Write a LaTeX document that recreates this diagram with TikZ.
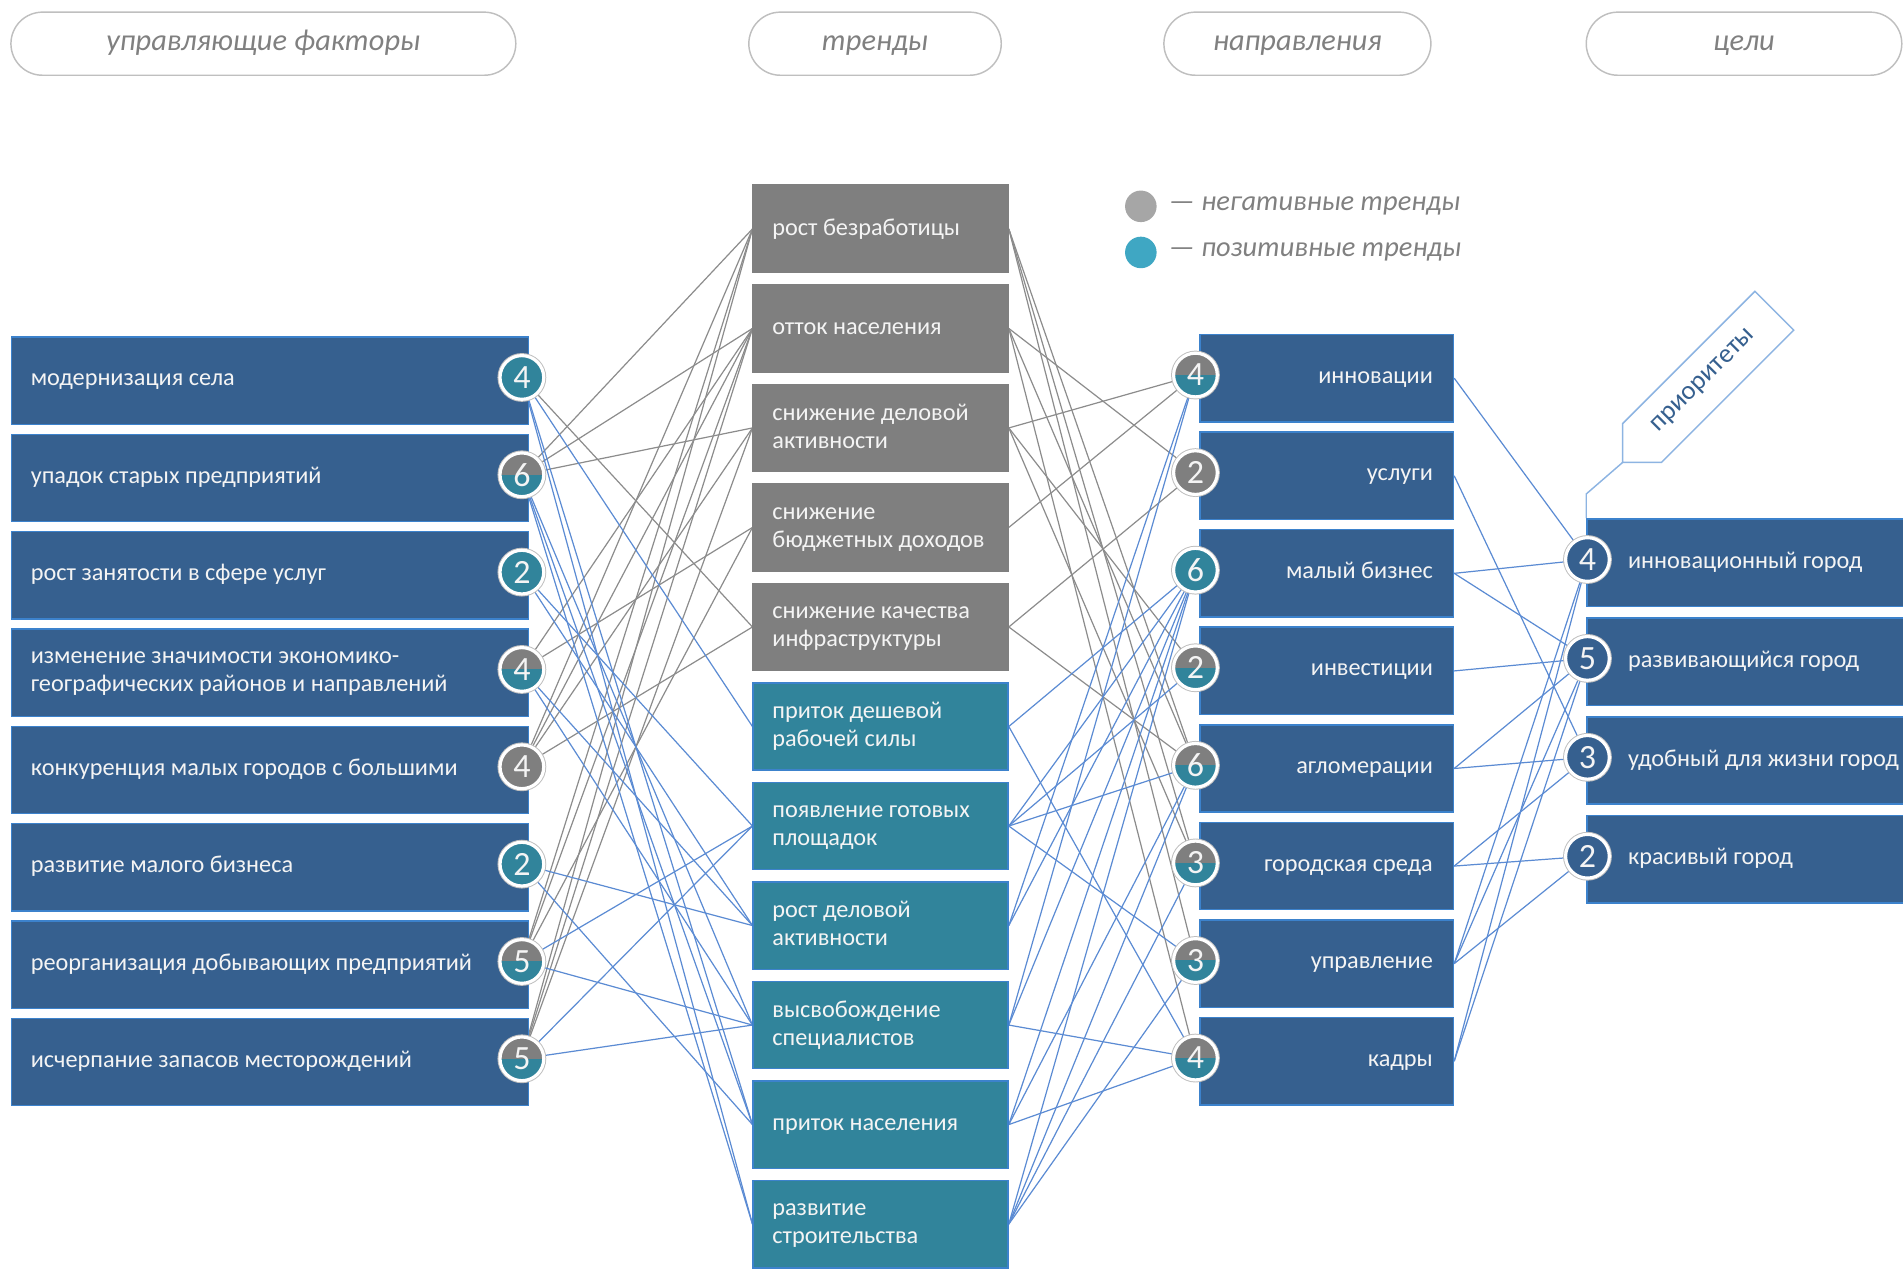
\documentclass[tikz,border=0pt]{standalone}
\usepackage{fontspec}
\setmainfont{Carlito}
\usetikzlibrary{calc,shapes.misc}
\pgfdeclarelayer{bg}
\pgfsetlayers{bg,main}
\definecolor{dkblue}{HTML}{36608F}
\definecolor{boxedge}{HTML}{3C82CC}
\definecolor{tealc}{HTML}{31849B}
\definecolor{grayc}{HTML}{7F7F7F}
\definecolor{lineg}{HTML}{8C8C8C}
\definecolor{lineb}{HTML}{5B8BD3}
\definecolor{pillc}{HTML}{BFBFBF}
\definecolor{pilltxt}{HTML}{808080}
\definecolor{leggray}{HTML}{A6A6A6}
\definecolor{legteal}{HTML}{3FA7C3}
\definecolor{tagc}{HTML}{8DB4E2}
\definecolor{offwhite}{HTML}{F4F4F4}
\newcommand\vsp{\vphantom{Бу}}
\begin{document}
\begin{tikzpicture}[x=0.5pt,y=-0.5pt,
  boxtext/.style={text=offwhite, font=\fontsize{10}{11.5}\selectfont, align=left, inner sep=0},
  fbox/.style={draw=boxedge, fill=dkblue, line width=0.6pt, minimum width=213pt, minimum height=36pt, inner sep=0, anchor=north west},
  tbox/.style={line width=0.6pt, minimum width=105pt, minimum height=36pt, inner sep=0, anchor=north west},
  dbox/.style={draw=boxedge, fill=dkblue, line width=0.6pt, minimum width=104.5pt, minimum height=36pt, inner sep=0, anchor=north west},
  gbox/.style={draw=boxedge, fill=dkblue, line width=0.6pt, minimum width=150pt, minimum height=36pt, inner sep=0, anchor=north west},
  badge/.style={circle, minimum size=18pt, inner sep=0, draw=white, line width=1.3pt, text=offwhite,
     font=\fontsize{14}{14}\selectfont, preaction={draw=black!25, line width=2.1pt}},
  badgeT/.style={badge, fill=tealc},
  badgeG/.style={badge, fill=grayc},
  badgeB/.style={badge, fill=dkblue},
  badgeS/.style={badge, path picture={
     \fill[grayc] (path picture bounding box.north west) rectangle (path picture bounding box.east);
     \fill[tealc] (path picture bounding box.west) rectangle (path picture bounding box.south east);}},
  pill/.style={rounded rectangle, draw=pillc, line width=0.6pt, minimum height=26pt, inner sep=0,
     text height=8pt, text depth=2.5pt,
     text=pilltxt, font=\fontsize{12.5}{12.5}\selectfont\itshape},
  legtext/.style={anchor=west, text=pilltxt, font=\fontsize{11.7}{11.7}\selectfont\itshape, inner sep=0},
  gline/.style={draw=lineg, line width=0.5pt},
  bline/.style={draw=lineb, line width=0.5pt}
]
\path[use as bounding box] (0,0) rectangle (1568,1045);
\clip (0,0) rectangle (1568,1045);

% headers
\node[pill, minimum width=208pt] (h1) at (217,36) {управляющие факторы};
\node[pill, minimum width=104pt] (h2) at (721,36) {тренды};
\node[pill, minimum width=110pt] (h3) at (1069,36) {направления};
\node[pill, minimum width=130pt] (h4) at (1437,36) {цели};

% legend
\node[circle, fill=leggray, minimum size=13pt, inner sep=0] (lg1) at (940,170) {};
\node[circle, fill=legteal, minimum size=13pt, inner sep=0] (lg2) at (940,208) {};
\node[legtext] (lt1) at (963,170) {— негативные тренды};
\node[legtext] (lt2) at (963,208) {— позитивные тренды};

% factors
\foreach \i/\t in {1/{модернизация села},2/{упадок старых предприятий},3/{рост занятости в сфере услуг},
  4/{изменение значимости экономико-\\географических районов и направлений},5/{конкуренция малых городов с большими},
  6/{развитие малого бизнеса},7/{реорганизация добывающих предприятий},8/{исчерпание запасов месторождений}}{
  \node[fbox] (f\i) at (9,{277+80.2*(\i-1)}) {};
  \node[boxtext, anchor=west] (f\i x) at (25,{313+80.2*(\i-1)}) {\vsp\t\vsp};
}
\foreach \i/\n/\s in {1/4/badgeT,2/6/badgeS,3/2/badgeT,4/4/badgeS,5/4/badgeG,6/2/badgeT,7/5/badgeS,8/5/badgeS}{
  \node[\s] (fb\i) at (430,{311+80.2*(\i-1)}) {\n};
}

% trends
\foreach \i/\c/\e/\t in {1/grayc/grayc/{рост безработицы},2/grayc/grayc/{отток населения},
  3/grayc/grayc/{снижение деловой\\активности},4/grayc/grayc/{снижение\\бюджетных доходов},
  5/grayc/grayc/{снижение качества\\инфраструктуры},6/tealc/boxedge/{приток дешевой\\рабочей силы},
  7/tealc/boxedge/{появление готовых\\площадок},8/tealc/boxedge/{рост деловой\\активности},
  9/tealc/boxedge/{высвобождение\\специалистов},10/tealc/boxedge/{приток населения},
  11/tealc/boxedge/{развитие\\строительства}}{
  \node[tbox, fill=\c, draw=\e] (t\i) at (620,{152+82*(\i-1)}) {};
  \node[boxtext, anchor=west] (t\i x) at (636,{188.5+82*(\i-1)}) {\vsp\t\vsp};
}

% directions
\foreach \i/\t in {1/{инновации},2/{услуги},3/{малый бизнес},4/{инвестиции},5/{агломерации},
  6/{городская среда},7/{управление},8/{кадры}}{
  \node[dbox] (d\i) at (988,{275+80.4*(\i-1)}) {};
  \node[boxtext, anchor=east, align=right] (d\i x) at (1181,{311+80.4*(\i-1)}) {\vsp\t\vsp};
}
\foreach \i/\n/\s in {1/4/badgeS,2/2/badgeG,3/6/badgeT,4/2/badgeS,5/6/badgeS,6/3/badgeS,7/3/badgeS,8/4/badgeS}{
  \node[\s] (db\i) at (985,{309+80.4*(\i-1)}) {\n};
}

% goals
\foreach \i/\t in {1/{инновационный город},2/{развивающийся город},3/{удобный для жизни город},4/{красивый город}}{
  \node[gbox] (g\i) at (1307,{427+81.5*(\i-1)}) {};
  \node[boxtext, anchor=west] (g\i x) at (1341,{463+81.5*(\i-1)}) {\vsp\t\vsp};
}
\foreach \i/\n in {1/4,2/5,3/3,4/2}{
  \node[badgeB] (gb\i) at (1308,{461+81.5*(\i-1)}) {\n};
}

% priorities tag
\coordinate (P) at (1337,381);
\draw[tagc, line width=0.6pt, fill=white] (P) -- ++(0,-32) -- ++(109,-109) -- ++(32,32) -- ++(-109,109) -- cycle;
\node[rotate=45, text=dkblue, font=\fontsize{11}{11}\selectfont, inner sep=0] (tagtxt) at ($(P)+(67,-67)$) {приоритеты};
\draw[tagc, line width=0.6pt] (g1.north west) -- ++(0,-20) -- (P);

% connectors
\begin{pgfonlayer}{bg}
\foreach \a/\b in {fb1/t5,fb2/t1,fb2/t2,fb2/t3,fb4/t2,fb4/t4,fb5/t1,fb5/t2,fb5/t3,fb5/t5,
   fb7/t1,fb7/t2,fb7/t4,fb8/t1,fb8/t2,fb8/t3}
  \draw[gline] (\a) -- (\b.west);
\foreach \a/\b in {fb1/t6,fb1/t10,fb1/t11,fb2/t9,fb2/t10,fb2/t11,fb3/t7,fb3/t8,fb4/t8,fb4/t9,
   fb6/t8,fb6/t10,fb7/t7,fb7/t9,fb8/t7,fb8/t9}
  \draw[bline] (\a) -- (\b.west);
\foreach \a/\b in {t1/db5,t1/db6,t1/db7,t2/db2,t2/db5,t2/db8,t3/db1,t3/db4,t3/db6,t4/db1,t5/db2,t5/db5}
  \draw[gline] (\a.east) -- (\b);
\foreach \a/\b in {t6/db3,t6/db8,t7/db3,t7/db4,t7/db5,t7/db7,t8/db1,t8/db3,t9/db1,t9/db3,t9/db8,
   t10/db3,t10/db5,t10/db8,t11/db3,t11/db5,t11/db6,t11/db7}
  \draw[bline] (\a.east) -- (\b);
\foreach \a/\b in {d1/gb1,d2/gb3,d3/gb1,d3/gb2,d4/gb2,d5/gb2,d5/gb3,d6/gb3,d6/gb4,d7/gb1,d7/gb2,d7/gb4,d8/gb1,d8/gb2}
  \draw[bline] (\a.east) -- (\b);
\end{pgfonlayer}
\end{tikzpicture}
\end{document}
